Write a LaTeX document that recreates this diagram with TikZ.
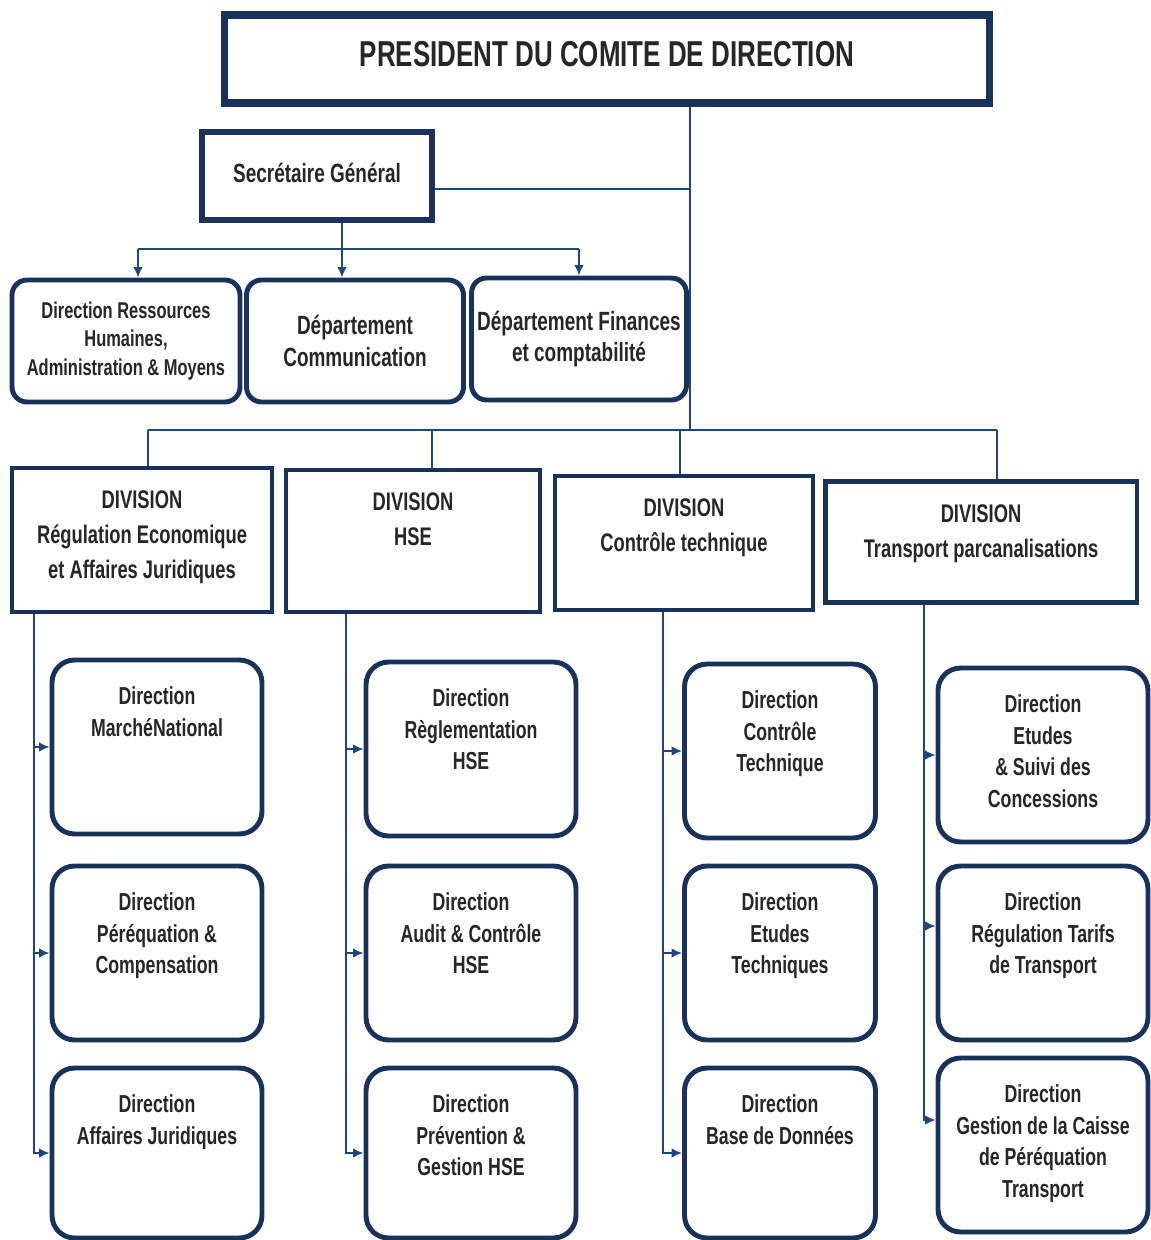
\documentclass[tikz,border=0pt]{standalone}
\usepackage{fontspec}
\setmainfont{Liberation Sans}[FakeStretch=0.72]
\usepackage{tikz}
\usetikzlibrary{positioning,arrows.meta}

\definecolor{navy}{RGB}{24,50,92}
\definecolor{linkblue}{RGB}{30,70,122}
\definecolor{inkgray}{RGB}{38,38,38}

\tikzset{
  box/.style={draw=navy, line width=2.8pt, fill=white, text=inkgray, align=center, inner sep=2pt},
  topbox/.style={box, line width=4pt, minimum width=15.3cm, minimum height=1.76cm,
    font=\fontsize{20.5}{24}\selectfont\bfseries},
  sgbox/.style={box, line width=3.4pt, minimum width=4.6cm, minimum height=1.76cm,
    font=\fontsize{15}{18}\selectfont\bfseries},
  depbox/.style={box, rounded corners=0.3cm, minimum height=2.44cm},
  divbox/.style={box},
  divtext/.style={text=inkgray, align=center, inner sep=0pt, font=\fontsize{14.5}{20}\selectfont\bfseries},
  dirbox/.style={box, rounded corners=0.45cm, minimum width=4.2cm, minimum height=3.48cm},
  dirtext/.style={text=inkgray, align=center, inner sep=0pt, font=\fontsize{14}{18}\selectfont\bfseries},
  link/.style={draw=linkblue, line width=1.1pt},
  >={Latex[length=6pt,width=5.5pt]}
}

\begin{document}
\begin{tikzpicture}[x=0.02cm, y=-0.02cm]
    \useasboundingbox (0,0) rectangle (1150,1240);

    % President and general secretary
    \node[topbox] (pres) at (607,59) {\raisebox{0.2cm}{PRESIDENT DU COMITE DE DIRECTION}};
    \node[sgbox] (sg) at (317,176) {\raisebox{0.12cm}{Secrétaire Général}};

    % Departments under the general secretary
    \node[depbox, minimum width=4.56cm, font=\fontsize{13}{16}\selectfont\bfseries] (drh) at (126,341) {Direction Ressources\\Humaines,\\Administration \& Moyens};
    \node[depbox, minimum width=4.34cm, font=\fontsize{15}{18}\selectfont\bfseries] (com) at (355,341) {Département\\Communication};
    \node[depbox, minimum width=4.3cm, font=\fontsize{15}{18}\selectfont\bfseries] (fin) at (579,339) {Département Finances\\et comptabilité};

    % Divisions
    \node[divbox, minimum width=5.2cm, minimum height=2.88cm] (dv1) at (142,540) {};
    \node[divbox, minimum width=5.08cm, minimum height=2.84cm] (dv2) at (413,541) {};
    \node[divbox, minimum width=5.16cm, minimum height=2.68cm] (dv3) at (684,543) {};
    \node[divbox, minimum width=6.24cm, minimum height=2.42cm] (dv4) at (981,542) {};
    \node[divtext, below=0.5cm of dv1.north] (dv1t) {DIVISION\\Régulation Economique\\et Affaires Juridiques};
    \node[divtext, below=0.5cm of dv2.north] (dv2t) {DIVISION\\HSE};
    \node[divtext, below=0.5cm of dv3.north] (dv3t) {DIVISION\\Contrôle technique};
    \node[divtext, below=0.5cm of dv4.north] (dv4t) {DIVISION\\Transport parcanalisations};

    % Directions, column 1
    \node[dirbox] (re1) at (157,747) {};
    \node[dirbox] (re2) at (157,953) {};
    \node[dirbox, minimum height=3.4cm] (re3) at (157,1153) {};
    \node[dirtext, below=0.58cm of re1.north] (re1t) {Direction\\MarchéNational};
    \node[dirtext, below=0.58cm of re2.north] (re2t) {Direction\\Péréquation \&\\Compensation};
    \node[dirtext, below=0.58cm of re3.north] (re3t) {Direction\\Affaires Juridiques};

    % Directions, column 2
    \node[dirbox] (hs1) at (471,749) {};
    \node[dirbox] (hs2) at (471,953) {};
    \node[dirbox, minimum height=3.4cm] (hs3) at (471,1153) {};
    \node[dirtext, below=0.58cm of hs1.north] (hs1t) {Direction\\Règlementation\\HSE};
    \node[dirtext, below=0.58cm of hs2.north] (hs2t) {Direction\\Audit \& Contrôle\\HSE};
    \node[dirtext, below=0.58cm of hs3.north] (hs3t) {Direction\\Prévention \&\\Gestion HSE};

    % Directions, column 3
    \node[dirbox, minimum width=3.82cm] (ct1) at (780,751) {};
    \node[dirbox, minimum width=3.82cm] (ct2) at (780,953) {};
    \node[dirbox, minimum width=3.82cm, minimum height=3.4cm] (ct3) at (780,1153) {};
    \node[dirtext, below=0.58cm of ct1.north] (ct1t) {Direction\\Contrôle\\Technique};
    \node[dirtext, below=0.58cm of ct2.north] (ct2t) {Direction\\Etudes\\Techniques};
    \node[dirtext, below=0.58cm of ct3.north] (ct3t) {Direction\\Base de Données};

    % Directions, column 4
    \node[dirbox] (tr1) at (1043,755) {};
    \node[dirbox] (tr2) at (1043,953) {};
    \node[dirbox] (tr3) at (1043,1145) {};
    \node[dirtext, below=0.58cm of tr1.north] (tr1t) {Direction\\Etudes\\\& Suivi des\\Concessions};
    \node[dirtext, below=0.58cm of tr2.north] (tr2t) {Direction\\Régulation Tarifs\\de Transport};
    \node[dirtext, below=0.58cm of tr3.north] (tr3t) {Direction\\Gestion de la Caisse\\de Péréquation\\Transport};

    % Junction points
    \coordinate (pj) at (690,430);
    \coordinate (sgj) at (690,189);
    \coordinate (sgb) at (342,249);
    \coordinate (s1) at (34,0);
    \coordinate (s2) at (346,0);
    \coordinate (s3) at (663,0);
    \coordinate (s4) at (924,0);
    \coordinate (d1) at ([xshift=0.12cm]dv1.north);
    \coordinate (d2) at ([xshift=0.38cm]dv2.north);
    \coordinate (d3) at ([xshift=-0.08cm]dv3.north);
    \coordinate (d4) at ([xshift=0.32cm]dv4.north);
    \coordinate (a1) at ([xshift=0.24cm]drh.north);

    % President links
    \draw[link] (pres.south -| pj) -- (pj);
    \draw[link] (sgj -| sg.east) -- (sgj);
    \draw[link] (pj -| d1) -- (pj -| d4);
    \foreach \d in {d1,d2,d3,d4}
        \draw[link] (pj -| \d) -- (\d);

    % General secretary links
    \draw[link] (sgb |- sg.south) -- (sgb);
    \draw[link] (sgb -| a1) -- (sgb -| fin.north);
    \draw[link, ->] (sgb -| a1) -- (a1);
    \draw[link, ->] (sgb) -- (sgb |- com.north);
    \draw[link, ->] (sgb -| fin.north) -- (fin.north);

    % Division spines
    \foreach \d/\s/\a/\b/\c in {dv1/s1/re1/re2/re3, dv2/s2/hs1/hs2/hs3, dv3/s3/ct1/ct2/ct3} {
        \draw[link, ->] (\s |- \d.south) |- (\a.west);
        \draw[link, ->] (\s |- \d.south) |- (\b.west);
        \draw[link, ->] (\s |- \d.south) |- (\c.west);
    }
    \draw[link, ->] (s4 |- dv4.south) |- (tr1.west);
    \draw[link, ->] (s4 |- dv4.south) |- ([yshift=0.54cm]tr2.west);
    \draw[link, ->] (s4 |- dv4.south) |- ([yshift=0.5cm]tr3.west);

\end{tikzpicture}
\end{document}
